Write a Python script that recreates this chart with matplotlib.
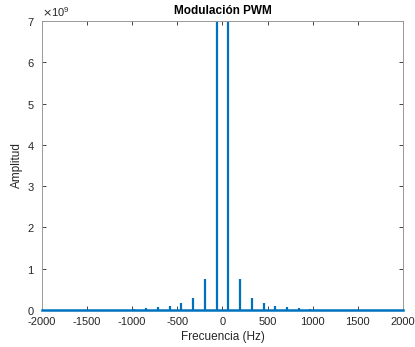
import matplotlib
matplotlib.use("Agg")
import matplotlib.pyplot as plt
from matplotlib.ticker import ScalarFormatter

# espectro de la senal PWM (armonicos impares)
armonicos_hz = [65, 195, 325, 455, 585, 715, 845, 975]
amplitudes = [7.0e9, 0.76e9, 0.29e9, 0.16e9, 0.10e9, 0.065e9, 0.04e9, 0.025e9]
rango_frec = [-2000, 2000]
xticks = [-2000, -1500, -1000, -500, 0, 500, 1000, 1500, 2000]
yticks = [0, 1e9, 2e9, 3e9, 4e9, 5e9, 6e9, 7e9]

freqs = [-f for f in armonicos_hz] + armonicos_hz
amps = amplitudes + amplitudes

plt.rcParams["font.family"] = ["Liberation Sans", "DejaVu Sans"]
plt.rcParams["axes.unicode_minus"] = False
azul = "#0072BD"
gris = "#262626"

fig = plt.figure(figsize=(4.15, 3.47), dpi=100)
ax = fig.add_axes([0.101, 0.1066, 0.870, 0.833])

ax.vlines(freqs, 0, amps, color=azul, linewidth=1.6)
ax.plot(rango_frec, [0, 0], color=azul, linewidth=1.8, clip_on=False, zorder=3)

ax.set_xlim(rango_frec)
ax.set_ylim(0, 7e9)
ax.set_xticks(xticks)
ax.set_yticks(yticks)

fmt = ScalarFormatter(useMathText=True)
fmt.set_powerlimits((0, 0))
ax.yaxis.set_major_formatter(fmt)
ax.yaxis.get_offset_text().set_fontsize(8)
ax.yaxis.get_offset_text().set_color(gris)

ax.tick_params(direction="in", top=True, right=True, length=3, width=0.6,
               labelsize=8, colors=gris)
ax.tick_params(axis="x", pad=5)
ax.tick_params(axis="y", pad=5)
for s in ax.spines.values():
    s.set_color("#999999")
    s.set_linewidth(0.7)

ax.set_title("Modulación PWM", fontsize=8.5, fontweight="bold", pad=5)
ax.set_xlabel("Frecuencia (Hz)", fontsize=8.5, color=gris, labelpad=3)
ax.set_ylabel("Amplitud", fontsize=8.5, color=gris, labelpad=3)

fig.savefig("out.png", dpi=100)
plt.close(fig)
